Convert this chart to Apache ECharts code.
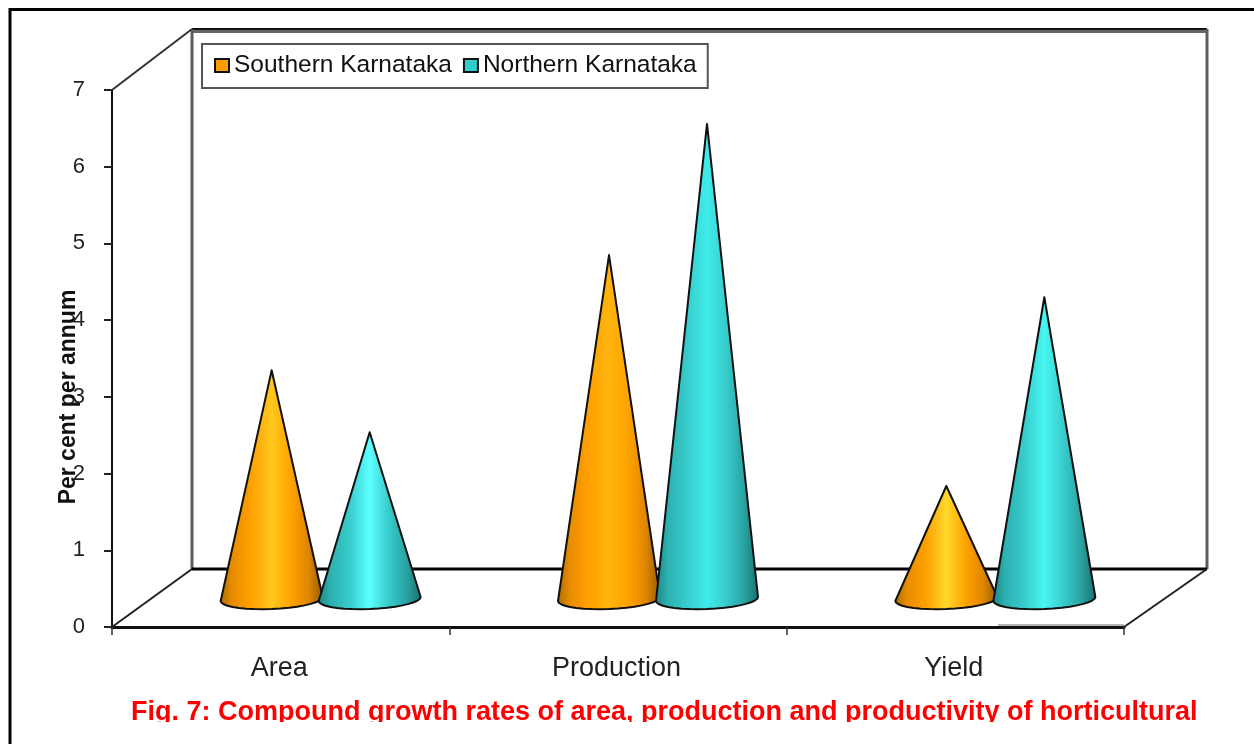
<!DOCTYPE html>
<html>
<head>
<meta charset="utf-8">
<style>
  html, body { margin: 0; padding: 0; background: #fff; }
  #chart { width: 1254px; height: 744px; }
</style>
<script src="https://cdn.jsdelivr.net/npm/echarts@6/dist/echarts.min.js"></script>
</head>
<body>
<div id="chart"></div>
<script>
const categories = ['Area', 'Production', 'Yield'];
const southern = [2.97, 4.47, 1.46];
const northern = [2.16, 6.18, 3.92];
const yTicks = [0, 7, 1]; // min, max, interval

const FONT = '"Liberation Sans", Arial, sans-serif';
// 3d box: how far the back wall sits from the front axes
const BACK_X = 80;
const BACK_X_RIGHT = 83;
const BACK_Y = 58;
const TOP_EXTRA = 3;
// cones stand half way into the floor
const MID_X = 40;
const MID_Y = 29;
const CONE_GAP = 49;
const CONE_R = 51;

// side shades plus one highlight per cone, the picture lights them differently
const orangeShades = ['#a86a00', '#e88c00', '#ffa000', '#ffa400', '#e08600', '#8f5c00'];
const orangeGlow = ['#ffc81e', '#ffb40f', '#ffd82c'];
const tealShades = ['#1c8484', '#2cb0b0', '#38caca', '#38cccc', '#2aa4a4', '#166e6e'];
const tealGlow = ['#5cffff', '#40ecec', '#48f6f2'];

const chart = echarts.init(document.getElementById('chart'));

function coneFill(shades, glow) {
  const stops = [
    [0, shades[0]], [0.12, shades[1]], [0.3, shades[2]], [0.5, glow],
    [0.68, shades[3]], [0.85, shades[4]], [1, shades[5]],
  ];
  return new echarts.graphic.LinearGradient(0, 0, 1, 0, stops.map((s) => ({ offset: s[0], color: s[1] })));
}

function coneItem(dir, shades, glows) {
  return function (params, api) {
    const tip = api.coord([api.value(0), api.value(1)]);
    const foot = api.coord([api.value(0), 0]);
    const cx = tip[0] + MID_X + dir * CONE_GAP;
    const cy = foot[1] - MID_Y;
    const points = [[cx, tip[1] - MID_Y]];
    // front half of the base, slightly tilted
    for (let a = 180; a >= 0; a -= 10) {
      const t = (a * Math.PI) / 180;
      const dx = CONE_R * Math.cos(t);
      points.push([cx + dx, cy + 10 * Math.sin(t) - (dx / CONE_R) * 2 + 1]);
    }
    return {
      type: 'polygon',
      shape: { points: points },
      style: { fill: coneFill(shades, glows[params.dataIndex]), stroke: '#111', lineWidth: 2, lineJoin: 'round' },
    };
  };
}

function frameItem(params, api) {
  const r = params.coordSys;
  const l = r.x, t = r.y, x2 = r.x + r.width, y2 = r.y + r.height;
  const bl = l + BACK_X, br = x2 + BACK_X_RIGHT, bb = y2 - BACK_Y, bt = t - BACK_Y - TOP_EXTRA;
  const line = (x1, y1, x, y, color, width) => ({
    type: 'line',
    shape: { x1: x1, y1: y1, x2: x, y2: y },
    style: { stroke: color, lineWidth: width },
  });
  return {
    type: 'group',
    children: [
      line(bl, bt + 2.5, br, bt + 2.5, '#666', 3),
      line(bl, bt, br, bt, '#111', 2),
      line(bl, bt, bl, bb, '#5c5c5c', 3),
      line(br, bt, br, bb, '#5c5c5c', 3),
      line(bl, bb, br, bb, '#000', 3),
      line(l, t, bl, bt, '#333', 2),
      line(l, y2, bl, bb, '#222', 2),
      line(x2, y2, br, bb, '#222', 2),
      line(x2 - 126, y2 - 2, x2, y2 - 2, '#666', 1),
    ],
  };
}

const option = {
  backgroundColor: '#fff',
  animation: false,
  textStyle: { fontFamily: FONT },
  title: {
    text: 'Fig. 7: Compound growth rates of area, production and productivity of horticultural',
    left: 131,
    top: 699,
    padding: 0,
    textStyle: { color: '#ff0000', fontSize: 27, fontWeight: 'bold', fontFamily: FONT },
  },
  legend: {
    data: ['Southern Karnataka', 'Northern Karnataka'],
    left: 202,
    top: 44,
    padding: [9, 11, 10, 12],
    itemWidth: 14,
    itemHeight: 13,
    itemGap: 11,
    icon: 'rect',
    backgroundColor: '#fff',
    borderColor: '#555',
    borderWidth: 2,
    textStyle: { fontSize: 24.5, color: '#111', fontFamily: FONT, padding: [2, 0, 0, 0] },
  },
  grid: { left: 112, right: 130, top: 90, bottom: 117 },
  xAxis: {
    type: 'category',
    data: categories,
    axisLine: { lineStyle: { color: '#111', width: 3 } },
    axisTick: { show: true, length: 8, lineStyle: { color: '#333', width: 1.5 } },
    axisLabel: { fontSize: 27, color: '#222', margin: 28, padding: [0, 3, 0, 0], fontFamily: FONT },
  },
  yAxis: {
    type: 'value',
    min: yTicks[0],
    max: yTicks[1],
    interval: yTicks[2],
    axisLine: { show: true, lineStyle: { color: '#111', width: 2 } },
    axisTick: { show: true, length: 8, lineStyle: { color: '#222', width: 2 } },
    axisLabel: { fontSize: 22, color: '#222', margin: 27, padding: [4, 0, 0, 0], fontFamily: FONT },
    splitLine: { show: false },
  },
  series: [
    {
      name: 'frame',
      type: 'custom',
      silent: true,
      z: 1,
      data: [[0, 0]],
      renderItem: frameItem,
    },
    {
      name: 'Southern Karnataka',
      type: 'custom',
      z: 3,
      itemStyle: { color: '#ff9c00', borderColor: '#111', borderWidth: 2 },
      encode: { x: 0, y: 1 },
      data: southern.map((v, i) => [i, v]),
      renderItem: coneItem(-1, orangeShades, orangeGlow),
    },
    {
      name: 'Northern Karnataka',
      type: 'custom',
      z: 4,
      itemStyle: { color: '#33cccc', borderColor: '#111', borderWidth: 2 },
      encode: { x: 0, y: 1 },
      data: northern.map((v, i) => [i, v]),
      renderItem: coneItem(1, tealShades, tealGlow),
    },
  ],
  graphic: [
    // outer border, only top and left are inside the picture
    {
      type: 'polyline',
      shape: { points: [[10, 744], [10, 9.5], [1254, 9.5]] },
      style: { fill: null, stroke: '#000', lineWidth: 3 },
    },
    {
      type: 'text',
      x: 69,
      y: 397,
      rotation: Math.PI / 2,
      style: {
        text: 'Per cent per annum',
        fill: '#111',
        font: 'bold 23px ' + FONT,
        align: 'center',
        verticalAlign: 'middle',
      },
    },
    // the caption is cut off just under its baseline in the original
    {
      type: 'rect',
      z: 100,
      shape: { x: 100, y: 722, width: 1154, height: 22 },
      style: { fill: '#fff' },
    },
  ],
};

chart.setOption(option);
</script>
</body>
</html>
